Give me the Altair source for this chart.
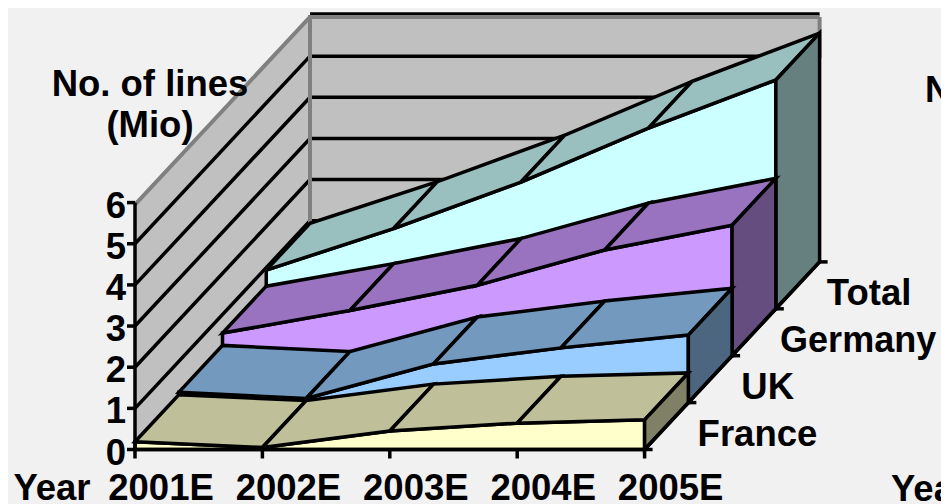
import altair as alt
import pandas as pd

YEARS = ["2001E", "2002E", "2003E", "2004E", "2005E"]
SERIES = ["France", "UK", "Germany", "Total"]
FRANCE = [0.19, 0.05, 0.45, 0.64, 0.72]
UK = [0.25, 0.10, 0.94, 1.33, 1.64]
GERMANY = [0.55, 1.10, 1.71, 2.57, 3.17]
TOTAL = [0.94, 1.95, 3.08, 4.39, 5.56]
VALUES = [FRANCE, UK, GERMANY, TOTAL]
FRONT = ["#ffffcc", "#99ccff", "#cc99ff", "#ccffff"]
TOP = ["#bfbf99", "#7399bf", "#9973bf", "#99bfbf"]
SIDE = ["#808066", "#4d6680", "#664d80", "#668080"]
Y_TICKS = [0, 1, 2, 3, 4, 5, 6]
LABEL_DX = [53, 53, 48, 51]
LABEL_SIZE = [36.5, 36.5, 36, 36.5]
FONT = "Liberation Sans"
BG = "#f1f1f1"
WALL = "#c0c0c0"
EDGE = "#808080"

W, H = 933, 496
LW = 3.5


def proj(yr, depth, val):
    return 135 + 127.4 * yr + 43.75 * depth, 449.5 - 46.9 * depth - 41.15 * val


polys, lines, texts = [], [], []


def poly(rows, pts, fill):
    pid = len(rows)
    for i, (a, b, c) in enumerate(pts):
        x, y = proj(a, b, c)
        rows.append(dict(pid=f"p{pid:04d}", i=i, x=x, y=y, fill=fill))


def seg(pts, dx=0, dy=0):
    lid = len(lines)
    for i, (a, b, c) in enumerate(pts):
        x, y = proj(a, b, c)
        lines.append(dict(lid=f"l{lid:04d}", i=i, x=x + dx, y=y + dy))


# walls
walls = []
poly(walls, [(0, 0, 0), (0, 4, 0), (0, 4, 6), (0, 0, 6)], WALL)
poly(walls, [(0, 4, 0), (4, 4, 0), (4, 4, 6), (0, 4, 6)], WALL)

# gridlines on both walls
for v in Y_TICKS[:-1]:
    seg([(0, 0, v), (0, 4, v), (4, 4, v)])
seg([(0, 4, 6), (4, 4, 6)], dy=-1)

# gray wall edges
grey = []
for k, pts in enumerate([
    [(0, 0, 6), (0, 4, 6), (4, 4, 6)],
    [(0, 4, 0), (0, 4, 6)],
    [(4, 4, 6), (4, 4, 5)],
]):
    for i, (a, b, c) in enumerate(pts):
        x, y = proj(a, b, c)
        grey.append(dict(lid=f"g{k}", i=i, x=x, y=y + (2 if k != 1 else 0)))

# series, painted back to front
for d in range(3, -1, -1):
    vals = VALUES[d]
    n = len(vals)
    pts = [(0, d, 0), (n - 1, d, 0)] + [(j, d, vals[j]) for j in range(n - 1, -1, -1)]
    poly(polys, pts, FRONT[d])
    for j in range(n - 1):
        poly(polys, [(j, d, vals[j]), (j + 1, d, vals[j + 1]),
                     (j + 1, d + 1, vals[j + 1]), (j, d + 1, vals[j])], TOP[d])
    poly(polys, [(n - 1, d, 0), (n - 1, d, vals[-1]),
                 (n - 1, d + 1, vals[-1]), (n - 1, d + 1, 0)], SIDE[d])

# axes and ticks
axis = []


def aseg(pts, dx=0, dy=0):
    lid = len(axis)
    for i, (a, b, c) in enumerate(pts):
        x, y = proj(a, b, c)
        axis.append(dict(lid=f"a{lid:04d}", i=i, x=x + (dx if i else 0), y=y + (dy if i else 0)))


aseg([(0, 0, 0), (4, 0, 0)])
aseg([(4, 0, 0), (4, 4, 0)])
aseg([(0, 0, 0), (0, 0, 6)])
for j in range(len(YEARS)):
    aseg([(j, 0, 0), (j, 0, 0)], dy=9)
for d in range(len(SERIES) + 1):
    aseg([(4, d, 0), (4, d, 0)], dx=8)
for v in Y_TICKS:
    aseg([(0, 0, v), (0, 0, v)], dx=-8)

# text
for j, lab in enumerate(YEARS):
    x, y = proj(j, 0, 0)
    texts.append(dict(t=lab, x=x + 26, y=500, a="center", s=36.5))
for v in Y_TICKS:
    x, y = proj(0, 0, v)
    texts.append(dict(t=str(v), x=x - 9, y=y + 15, a="right", s=36.5))
for d, lab in enumerate(SERIES):
    x, y = proj(4, d, 0)
    texts.append(dict(t=lab, x=x + LABEL_DX[d], y=y - 4, a="left", s=LABEL_SIZE[d]))
texts += [
    dict(t="No. of lines", x=150, y=96, a="center", s=36.5),
    dict(t="(Mio)", x=150, y=137, a="center", s=36.5),
    dict(t="Year", x=52, y=500, a="center", s=36.5),
    dict(t="N", x=925, y=102, a="left", s=36.5),
    dict(t="Yea", x=891, y=501, a="left", s=36.5),
]

X = alt.X("x:Q", scale=alt.Scale(domain=[8, 8 + W], nice=False, zero=False), axis=None)
Y = alt.Y("y:Q", scale=alt.Scale(domain=[8 + H, 8], nice=False, zero=False), axis=None)


def poly_layer(rows, **kw):
    return alt.Chart(pd.DataFrame(rows)).mark_line(
        interpolate="linear-closed", clip=False, **kw
    ).encode(
        x=X, y=Y, order="i:Q", detail="pid:N",
        fill=alt.Fill("fill:N", scale=None, legend=None),
    )


def line_layer(rows, color, width):
    return alt.Chart(pd.DataFrame(rows)).mark_line(
        color=color, strokeWidth=width, strokeCap="butt", strokeJoin="miter"
    ).encode(x=X, y=Y, order="i:Q", detail="lid:N")


def text_layer(rows, align):
    return alt.Chart(pd.DataFrame(rows)).mark_text(
        align=align, baseline="alphabetic", font=FONT, fontWeight="bold", color="black",
    ).encode(x=X, y=Y, text="t:N", size=alt.Size("s:Q", scale=None, legend=None))


layers = [
    poly_layer(walls, strokeWidth=0, stroke=WALL),
    line_layer(lines, "black", LW),
    line_layer(grey, EDGE, 4),
    poly_layer(polys, stroke="black", strokeWidth=LW, strokeJoin="miter"),
    line_layer(axis, "black", LW),
]
for al in ("left", "center", "right"):
    layers.append(text_layer([r for r in texts if r["a"] == al], al))

chart = alt.layer(*layers).properties(
    width=W, height=H, padding=0, background=BG,
    autosize=alt.AutoSizeParams(type="none"),
).configure_view(stroke=None)

chart.save("out.html", embed_options={"renderer": "svg", "actions": False})
